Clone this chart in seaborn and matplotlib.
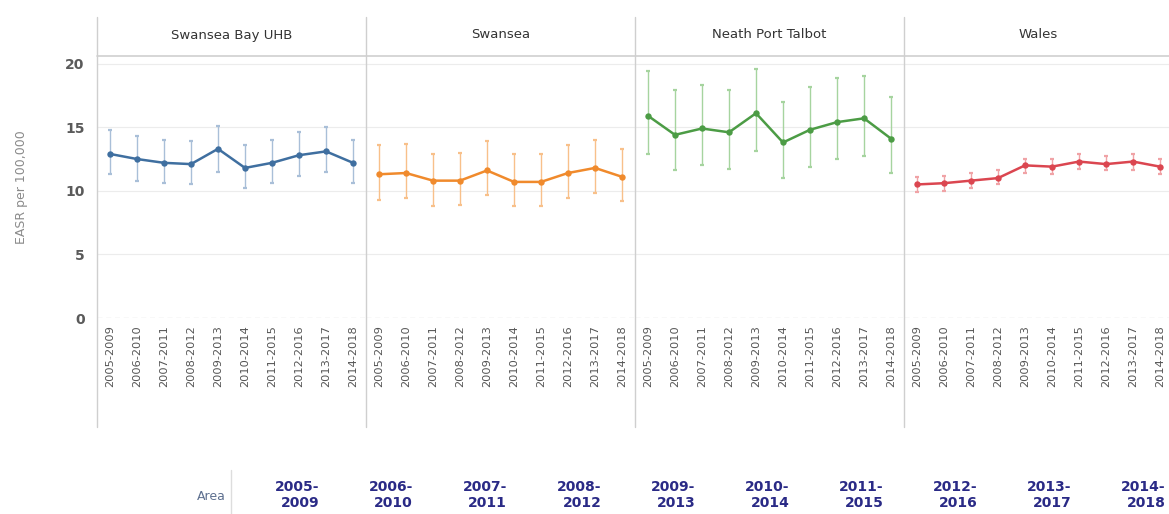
import matplotlib
matplotlib.use("Agg")
import matplotlib.pyplot as plt
from matplotlib.lines import Line2D
import numpy as np
import pandas as pd
import seaborn as sns

# ---- data -------------------------------------------------------------
periods = ["2005-2009", "2006-2010", "2007-2011", "2008-2012", "2009-2013",
           "2010-2014", "2011-2015", "2012-2016", "2013-2017", "2014-2018"]
areas = ["Swansea Bay UHB", "Swansea", "Neath Port Talbot", "Wales"]

uhb_rate = [12.9, 12.5, 12.2, 12.1, 13.3, 11.8, 12.2, 12.8, 13.1, 12.2]
uhb_lower = [11.3, 10.8, 10.6, 10.5, 11.5, 10.2, 10.6, 11.2, 11.5, 10.6]
uhb_upper = [14.8, 14.3, 14.0, 13.9, 15.1, 13.6, 14.0, 14.6, 15.0, 14.0]

swansea_rate = [11.3, 11.4, 10.8, 10.8, 11.6, 10.7, 10.7, 11.4, 11.8, 11.1]
swansea_lower = [9.3, 9.4, 8.8, 8.9, 9.7, 8.8, 8.8, 9.4, 9.8, 9.2]
swansea_upper = [13.6, 13.7, 12.9, 13.0, 13.9, 12.9, 12.9, 13.6, 14.0, 13.3]

npt_rate = [15.9, 14.4, 14.9, 14.6, 16.1, 13.8, 14.8, 15.4, 15.7, 14.1]
npt_lower = [12.9, 11.6, 12.0, 11.7, 13.1, 11.0, 11.9, 12.5, 12.7, 11.4]
npt_upper = [19.4, 17.9, 18.3, 17.9, 19.6, 17.0, 18.2, 18.9, 19.0, 17.4]

wales_rate = [10.5, 10.6, 10.8, 11.0, 12.0, 11.9, 12.3, 12.1, 12.3, 11.9]
wales_lower = [9.9, 10.0, 10.2, 10.5, 11.4, 11.3, 11.7, 11.6, 11.6, 11.3]
wales_upper = [11.1, 11.2, 11.4, 11.6, 12.5, 12.5, 12.9, 12.7, 12.9, 12.5]

y_ticks = [0, 5, 10, 15, 20]

line_colors = ["#3f6fa0", "#f08a2c", "#4c9c45", "#db4650"]
bar_colors = ["#a9bfd8", "#f8c08a", "#a6d49f", "#f0a3a6"]

rates = [uhb_rate, swansea_rate, npt_rate, wales_rate]
lowers = [uhb_lower, swansea_lower, npt_lower, wales_lower]
uppers = [uhb_upper, swansea_upper, npt_upper, wales_upper]

frames = []
for area, r, lo, hi in zip(areas, rates, lowers, uppers):
    frames.append(pd.DataFrame({"Area": area, "Period": periods,
                                "EASR": r, "Lower": lo, "Upper": hi}))
df = pd.concat(frames, ignore_index=True)

# ---- figure -----------------------------------------------------------
sns.set_style("white")
plt.rcParams["font.family"] = ["DejaVu Sans"]

W, H = 1169, 514
fig = plt.figure(figsize=(W / 100, H / 100), dpi=100)


def fx(px):
    return px / W


def fy(py):
    return 1 - py / H


panel_left = 97
panel_w = 269
plot_top = 56
plot_bottom = 318
header_top = 17
divider_bottom = 427

grid_col = "#cfcfcf"

for i, area in enumerate(areas):
    x0 = panel_left + i * panel_w
    ax = fig.add_axes([fx(x0), fy(plot_bottom), fx(panel_w),
                       (plot_bottom - plot_top) / H])
    sub = df[df["Area"] == area]

    for v in y_ticks[1:]:
        ax.axhline(v, color="#ececec", lw=0.8, zorder=0)
    ax.axhline(0, color="#c8c8c8", lw=0.9, ls=(0, (4, 3)), zorder=0)

    eb = ax.errorbar(sub["Period"], sub["EASR"],
                     yerr=[sub["EASR"] - sub["Lower"], sub["Upper"] - sub["EASR"]],
                     fmt="none", ecolor=bar_colors[i], elinewidth=1.0,
                     capsize=1.6, capthick=1.6, zorder=1)
    for cap in eb[1]:
        cap.set_color("#9a9a9a")

    sns.lineplot(data=sub, x="Period", y="EASR", ax=ax, sort=False,
                 color=line_colors[i], lw=1.8, marker="o", markersize=4.6,
                 markeredgewidth=0, zorder=3)

    ax.set_xlim(-0.48, 9.48)
    ax.set_ylim(0, 20.6)
    for s in ax.spines.values():
        s.set_visible(False)
    ax.set_xlabel("")
    ax.set_ylabel("")
    ax.tick_params(axis="x", length=0, pad=5, labelsize=8.2,
                   labelcolor="#555555", labelrotation=90)
    ax.set_yticks(y_ticks)
    if i == 0:
        ax.tick_params(axis="y", length=0, pad=9, labelsize=10,
                       labelcolor="#5a5a5a")
        for lbl in ax.get_yticklabels():
            lbl.set_fontweight("bold")
    else:
        ax.tick_params(axis="y", length=0, labelleft=False)

    fig.text(fx(x0 + panel_w / 2), fy(35), area, ha="center", va="center",
             fontsize=9.5, color="#333333")

# panel dividers and header rule
for i in range(5):
    x = panel_left + i * panel_w
    fig.add_artist(Line2D([fx(x), fx(x)], [fy(header_top), fy(divider_bottom)],
                          color=grid_col, lw=1.0))
fig.add_artist(Line2D([fx(panel_left), 1], [fy(plot_top), fy(plot_top)],
                      color=grid_col, lw=1.2))

fig.text(fx(22), fy(187), "EASR per 100,000", rotation=90, ha="center",
         va="center", fontsize=9, color="#8a8a8a")

# period header row beneath the chart
fig.text(fx(226), fy(497), "Area", ha="right", va="center",
         fontsize=9, color="#5d6f8f")
fig.add_artist(Line2D([fx(231), fx(231)], [fy(470), fy(514)],
                      color="#dddddd", lw=1.0))
for k, p in enumerate(periods):
    a, b = p.split("-")
    fig.text(fx(319 + k * 94.1), fy(495), f"{a}-\n{b}", ha="right",
             va="center", multialignment="right", fontsize=10,
             fontweight="bold", color="#2a2a86", linespacing=1.25)

fig.savefig("out.png", dpi=100)
